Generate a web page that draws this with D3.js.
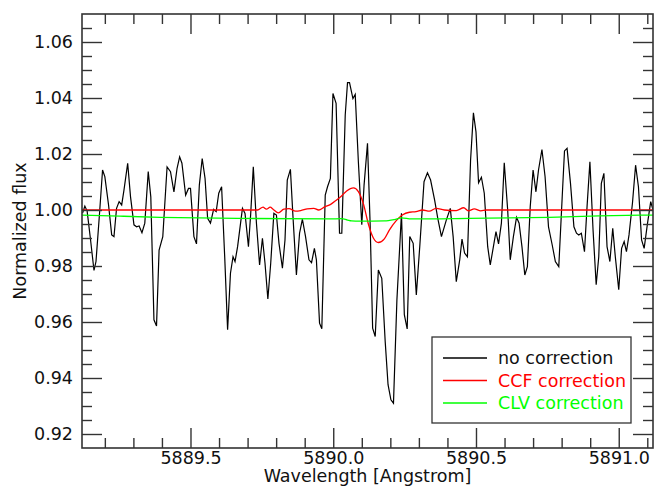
<!DOCTYPE html>
<html>
<head>
<meta charset="utf-8">
<script src="https://cdn.jsdelivr.net/npm/d3@7"></script>
<style>
body{margin:0;background:#fff;}
svg text{font-family:"DejaVu Sans",sans-serif;}
</style>
</head>
<body>
<div class="main"></div>
<script>
// black: no correction
var noCorrWave=[5889.122,5889.130,5889.138,5889.150,5889.162,5889.169,5889.181,5889.192,5889.200,5889.213,
5889.224,5889.232,5889.241,5889.250,5889.259,5889.267,5889.280,5889.290,5889.302,5889.311,
5889.320,5889.330,5889.340,5889.352,5889.361,5889.372,5889.381,5889.390,5889.403,5889.418,
5889.430,5889.442,5889.453,5889.462,5889.470,5889.483,5889.493,5889.500,5889.512,5889.521,
5889.531,5889.541,5889.551,5889.560,5889.570,5889.581,5889.590,5889.599,5889.609,5889.620,
5889.630,5889.640,5889.649,5889.656,5889.665,5889.682,5889.691,5889.703,5889.711,5889.720,
5889.731,5889.742,5889.752,5889.761,5889.771,5889.781,5889.792,5889.801,5889.810,5889.822,
5889.831,5889.839,5889.850,5889.859,5889.871,5889.882,5889.892,5889.903,5889.915,5889.924,
5889.934,5889.941,5889.952,5889.960,5889.972,5889.980,5889.990,5889.999,5890.010,5890.022,
5890.030,5890.042,5890.050,5890.057,5890.069,5890.077,5890.088,5890.100,5890.108,5890.120,
5890.129,5890.138,5890.147,5890.158,5890.170,5890.182,5890.192,5890.202,5890.211,5890.223,
5890.239,5890.249,5890.259,5890.268,5890.280,5890.291,5890.303,5890.318,5890.330,5890.341,
5890.355,5890.366,5890.379,5890.396,5890.410,5890.420,5890.431,5890.443,5890.451,5890.460,
5890.470,5890.481,5890.491,5890.500,5890.509,5890.519,5890.529,5890.541,5890.550,5890.561,
5890.570,5890.579,5890.589,5890.599,5890.611,5890.620,5890.631,5890.642,5890.651,5890.661,
5890.671,5890.680,5890.690,5890.700,5890.710,5890.719,5890.731,5890.742,5890.754,5890.767,
5890.778,5890.790,5890.802,5890.810,5890.819,5890.831,5890.843,5890.852,5890.860,5890.869,
5890.880,5890.889,5890.899,5890.910,5890.921,5890.930,5890.939,5890.948,5890.959,5890.969,
5890.979,5890.988,5891.000,5891.010,5891.019,5891.027,5891.036,5891.048,5891.059,5891.069,
5891.080,5891.089,5891.100,5891.112,5891.120];
var noCorrFlux=[0.9989,1.0014,0.9996,0.9893,0.9784,0.9816,0.9982,1.0143,1.0119,1.0018,
0.9911,0.9905,1.0006,1.0030,1.0018,1.0071,1.0167,1.0047,0.9947,0.9940,
0.9943,0.9919,0.9953,1.0137,1.0047,0.9608,0.9586,0.9857,0.9905,1.0154,
1.0137,1.0065,1.0149,1.0190,1.0167,1.0053,1.0077,1.0077,0.9905,0.9879,
1.0089,1.0184,1.0113,0.9970,0.9953,1.0002,0.9994,1.0060,1.0083,0.9829,
0.9572,0.9774,0.9833,0.9816,0.9869,1.0006,0.9988,0.9869,0.9988,1.0154,
0.9953,0.9804,0.9899,0.9810,0.9682,0.9810,0.9988,0.9982,0.9881,0.9792,
0.9893,1.0107,1.0145,0.9976,0.9768,0.9917,0.9967,0.9905,0.9822,0.9812,
0.9863,0.9822,0.9596,0.9576,1.0053,1.0083,1.0113,1.0416,1.0381,0.9917,
0.9917,1.0339,1.0455,1.0455,1.0398,1.0413,1.0172,0.9947,1.0089,1.0238,
0.9958,0.9578,0.9548,0.9786,0.9756,0.9530,0.9376,0.9322,0.9310,0.9679,
0.9988,0.9626,0.9575,0.9905,0.9881,0.9697,0.9869,1.0101,1.0133,1.0107,
1.0036,0.9971,0.9905,0.9964,1.0006,0.9905,0.9744,0.9822,0.9896,0.9846,
0.9833,1.0178,1.0347,1.0279,1.0097,1.0117,1.0060,0.9869,0.9804,0.9869,
0.9923,0.9879,0.9953,1.0169,1.0000,0.9822,0.9905,0.9974,0.9953,0.9869,
0.9768,0.9798,1.0012,1.0143,1.0065,1.0143,1.0216,1.0119,0.9940,0.9875,
0.9816,0.9798,1.0047,1.0211,1.0220,1.0095,0.9940,0.9917,0.9911,0.9917,
0.9851,1.0012,1.0172,0.9929,0.9733,0.9833,1.0095,1.0131,0.9869,0.9816,
0.9935,0.9833,0.9715,0.9863,0.9887,0.9851,0.9911,1.0024,1.0160,1.0083,
0.9893,0.9863,0.9947,1.0030,1.0000];

// red: CCF correction
var ccfWave=[5889.120,5889.735,5889.754,5889.766,5889.779,5889.790,5889.808,5889.827,5889.845,5889.868,
5889.886,5889.909,5889.932,5889.949,5889.970,5889.991,5890.012,5890.026,5890.047,5890.071,
5890.088,5890.106,5890.123,5890.141,5890.158,5890.179,5890.197,5890.220,5890.242,5890.267,
5890.290,5890.313,5890.337,5890.360,5890.389,5890.431,5890.457,5890.473,5890.494,5890.517,
5890.536,5891.120];
var ccfFlux=[1.0000,1.0000,1.0010,1.0003,1.0010,1.0002,0.9990,1.0003,1.0005,0.9996,
0.9998,1.0004,1.0006,1.0000,1.0011,1.0020,1.0036,1.0047,1.0068,1.0079,
1.0066,1.0021,0.9950,0.9899,0.9884,0.9897,0.9929,0.9961,0.9982,0.9992,
0.9994,1.0000,0.9996,1.0006,1.0000,0.9998,1.0008,0.9997,1.0004,0.9997,
1.0000,1.0000];

// green: CLV correction
var clvWave=[5889.120,5889.253,5889.393,5889.665,5889.987,5890.029,5890.050,5890.064,5890.092,5890.179,
5890.214,5890.239,5890.274,5890.477,5890.756,5890.931,5891.120];
var clvFlux=[0.9982,0.9978,0.9974,0.9970,0.9968,0.9969,0.9964,0.9961,0.9960,0.9961,
0.9966,0.9972,0.9968,0.9970,0.9974,0.9979,0.9982];

var xMajor=[5889.5,5890.0,5890.5,5891.0];
var xMinor=[5889.2,5889.3,5889.4,5889.6,5889.7,5889.8,5889.9,5890.1,5890.2,5890.3,5890.4,5890.6,5890.7,5890.8,5890.9,5891.1];
var yMajor=[0.92,0.94,0.96,0.98,1.00,1.02,1.04,1.06];
var yMinor=[0.925,0.93,0.935,0.945,0.95,0.955,0.965,0.97,0.975,0.985,0.99,0.995,1.005,1.01,1.015,1.025,1.03,1.035,1.045,1.05,1.055,1.065];

var seriesNames=['no correction','CCF correction','CLV correction'];
var seriesColors=['#000000','#ff0000','#00ff00'];

var fontSize='17.5px';
var margin={top:14,right:2,left:82,bottom:39};
var width=655-margin.left-margin.right;
var height=487-margin.top-margin.bottom;

var svg=d3.select('.main').append('svg')
    .attr('width',655)
    .attr('height',487);
var g=svg.append('g').attr('transform','translate('+margin.left+','+margin.top+')');

var x=d3.scaleLinear().domain([5889.12,5891.12]).range([0,width]);
var y=d3.scaleLinear().domain([0.915,1.07]).range([height,0]);

g.append('clipPath').attr('id','clip').append('rect')
    .attr('width',width).attr('height',height);

var line=d3.line().x(d=>x(d[0])).y(d=>y(d[1]));
var smooth=d3.line().x(d=>x(d[0])).y(d=>y(d[1])).curve(d3.curveMonotoneX);

var plot=g.append('g').attr('clip-path','url(#clip)');
plot.append('path')
    .datum(d3.zip(noCorrWave,noCorrFlux))
    .attr('d',line).attr('fill','none')
    .attr('stroke',seriesColors[0]).attr('stroke-width',1.2);
plot.append('path')
    .datum(d3.zip(ccfWave,ccfFlux))
    .attr('d',smooth).attr('fill','none')
    .attr('stroke',seriesColors[1]).attr('stroke-width',1.3);
plot.append('path')
    .datum(d3.zip(clvWave,clvFlux))
    .attr('d',smooth).attr('fill','none')
    .attr('stroke',seriesColors[2]).attr('stroke-width',1.3);

// axes, ticks pointing inward
function styleAxis(sel){
  sel.select('.domain').remove();
  sel.selectAll('line').attr('stroke','#333').attr('stroke-width',1.4);
  sel.selectAll('text').attr('font-size',fontSize).attr('fill','#111');
}
g.append('g').attr('transform','translate(0,'+height+')')
  .call(d3.axisBottom(x).tickValues(xMajor).tickSize(-20).tickPadding(3.5).tickFormat(d3.format('.1f'))).call(styleAxis);
g.append('g').attr('transform','translate(0,'+height+')')
  .call(d3.axisBottom(x).tickValues(xMinor).tickSize(-10).tickFormat('')).call(styleAxis);
g.append('g')
  .call(d3.axisTop(x).tickValues(xMajor).tickSize(-20).tickFormat('')).call(styleAxis);
g.append('g')
  .call(d3.axisTop(x).tickValues(xMinor).tickSize(-10).tickFormat('')).call(styleAxis);
g.append('g')
  .call(d3.axisLeft(y).tickValues(yMajor).tickSize(-20).tickPadding(9).tickFormat(d3.format('.2f'))).call(styleAxis);
g.append('g')
  .call(d3.axisLeft(y).tickValues(yMinor).tickSize(-10).tickFormat('')).call(styleAxis);
g.append('g').attr('transform','translate('+width+',0)')
  .call(d3.axisRight(y).tickValues(yMajor).tickSize(-20).tickFormat('')).call(styleAxis);
g.append('g').attr('transform','translate('+width+',0)')
  .call(d3.axisRight(y).tickValues(yMinor).tickSize(-10).tickFormat('')).call(styleAxis);

g.append('rect').attr('width',width).attr('height',height)
  .attr('fill','none').attr('stroke','#333').attr('stroke-width',1.6);

svg.append('text')
  .attr('x',margin.left+width/2).attr('y',482)
  .attr('text-anchor','middle').attr('font-size',fontSize).attr('fill','#111')
  .text('Wavelength [Angstrom]');
svg.append('text')
  .attr('transform','translate(26,'+(margin.top+height/2)+') rotate(-90)')
  .attr('text-anchor','middle').attr('font-size',fontSize).attr('fill','#111')
  .text('Normalized flux');

// legend
var legend=svg.append('g').attr('transform','translate(432,337)');
legend.append('rect').attr('width',199).attr('height',86)
  .attr('fill','#fff').attr('stroke','#333').attr('stroke-width',1.3);
var item=legend.selectAll('.legend-item')
  .data(seriesNames).enter().append('g')
  .attr('class','legend-item')
  .attr('transform',function(d,i){return 'translate(0,'+(21+i*22.5)+')';});
item.append('line').attr('x1',11).attr('x2',55)
  .attr('stroke',function(d,i){return seriesColors[i];}).attr('stroke-width',1.3);
item.append('text').attr('x',66).attr('dy','0.35em')
  .attr('font-size',fontSize)
  .attr('fill',function(d,i){return seriesColors[i]==='#000000'?'#111':seriesColors[i];})
  .text(function(d){return d;});
</script>
</body>
</html>
